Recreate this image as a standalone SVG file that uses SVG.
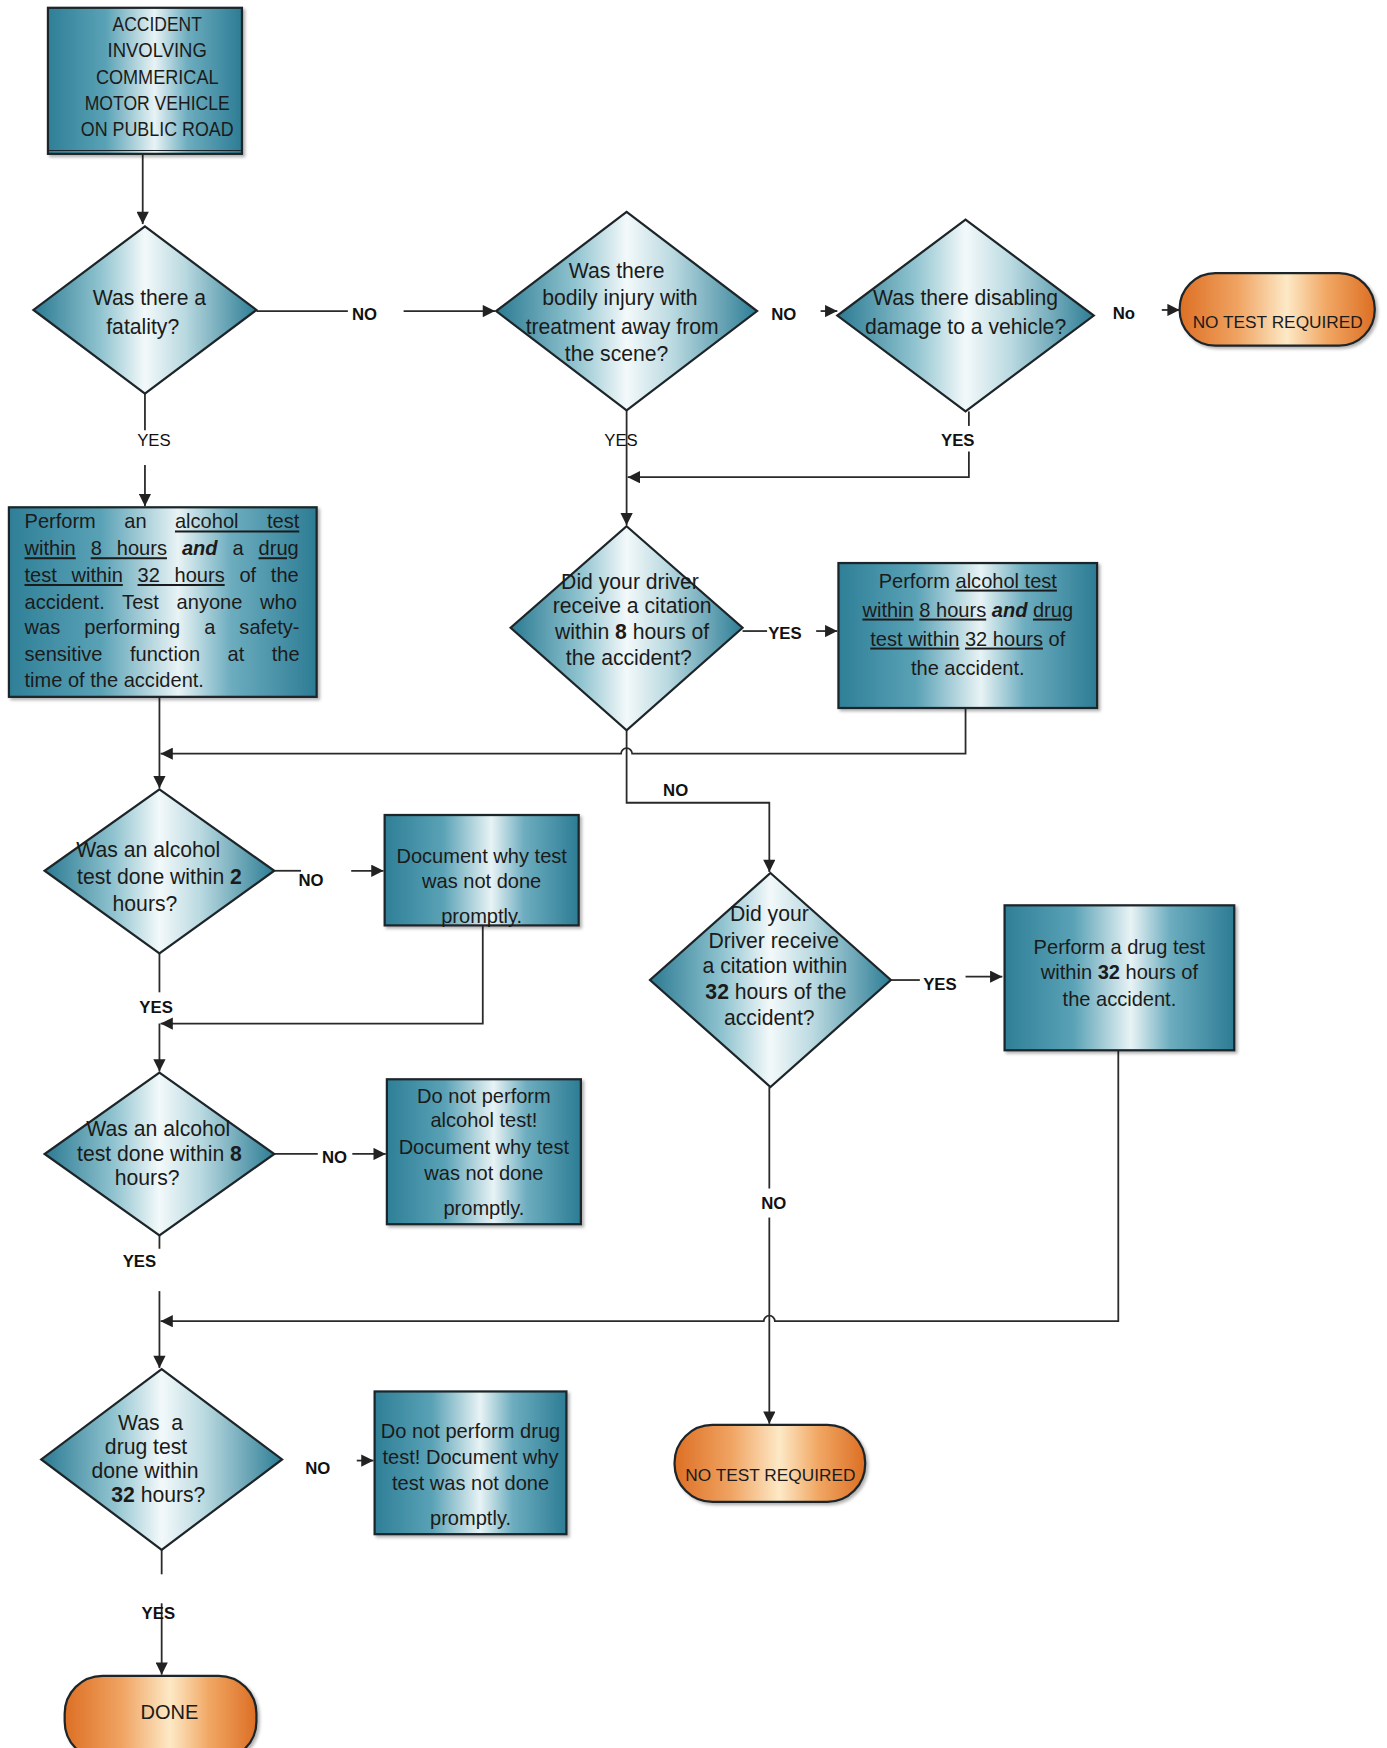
<svg xmlns="http://www.w3.org/2000/svg" width="1387" height="1748" viewBox="0 0 1387 1748">
<defs>
<linearGradient id="gBox" x1="0" y1="0" x2="1" y2="0">
<stop offset="0" stop-color="#2e7f97"/><stop offset="0.3" stop-color="#5aa2b6"/><stop offset="0.55" stop-color="#e8f3f5"/><stop offset="0.72" stop-color="#6dadbf"/><stop offset="1" stop-color="#2c7c94"/>
</linearGradient>
<linearGradient id="gDia" x1="0" y1="0" x2="1" y2="0">
<stop offset="0" stop-color="#2b7a92"/><stop offset="0.3" stop-color="#8fc3cf"/><stop offset="0.5" stop-color="#f3f9fa"/><stop offset="0.68" stop-color="#b9d9e0"/><stop offset="1" stop-color="#2d7d95"/>
</linearGradient>
<linearGradient id="gOr" x1="0" y1="0" x2="1" y2="0">
<stop offset="0" stop-color="#dd6f24"/><stop offset="0.3" stop-color="#f0a463"/><stop offset="0.55" stop-color="#fde9c6"/><stop offset="0.75" stop-color="#f1a865"/><stop offset="1" stop-color="#dc6e23"/>
</linearGradient>
<filter id="sh" x="-10%" y="-10%" width="130%" height="130%">
<feDropShadow dx="2" dy="2" stdDeviation="1.5" flood-color="#000" flood-opacity="0.3"/>
</filter>
<marker id="ah" viewBox="0 0 10 10" refX="10" refY="5" markerWidth="13" markerHeight="11" markerUnits="userSpaceOnUse" orient="auto">
<path d="M0,0 L10,5 L0,10 z" fill="#222"/>
</marker>
<style>
.box{fill:url(#gBox);stroke:#1d2529;stroke-width:2;filter:url(#sh)}
.dia{fill:url(#gDia);stroke:#1d2529;stroke-width:2}
.term{fill:url(#gOr);stroke:#1d2529;stroke-width:2;filter:url(#sh)}
.t{font-family:"Liberation Sans",Arial,sans-serif;font-size:18px;fill:#1b1b1b;text-anchor:middle}
.tt{font-family:"Liberation Sans",Arial,sans-serif;font-size:15.5px;fill:#1b1b1b;text-anchor:middle}
.td{font-family:"Liberation Sans",Arial,sans-serif;font-size:19px;fill:#1b1b1b;text-anchor:middle}
.tj{font-family:"Liberation Sans",Arial,sans-serif;font-size:18px;fill:#1b1b1b}
.lb{font-family:"Liberation Sans",Arial,sans-serif;font-size:15px;font-weight:bold;fill:#111;text-anchor:middle}
.lr{font-family:"Liberation Sans",Arial,sans-serif;font-size:15px;fill:#111;text-anchor:middle}
.c{fill:none;stroke:#2a2a2a;stroke-width:1.6}
.ca{fill:none;stroke:#2a2a2a;stroke-width:1.6;marker-end:url(#ah)}
.u{text-decoration:underline}
.b{font-weight:bold}
.bi{font-weight:bold;font-style:italic}
</style>
</defs>
<rect width="1387" height="1748" fill="#ffffff"/>
<g transform="scale(1.11495)">

<g id="connectors">
<path class="ca" d="M128,138 V201"/>
<path class="c" d="M230,279 H312"/>
<path class="ca" d="M362,279 H444"/>
<path class="ca" d="M736,279 H751"/>
<path class="ca" d="M1042,278 H1058"/>
<path class="c" d="M130,353 V386"/>
<path class="ca" d="M130,417 V454"/>
<path class="ca" d="M562,368 V471"/>
<path class="c" d="M869,369 V382"/>
<path class="ca" d="M869,405 V428 H563"/>
<path class="c" d="M666,566 H688"/>
<path class="ca" d="M732,566 H751"/>
<path class="ca" d="M866,635 V676 H567 A5,5 0 0 0 557,676 H144"/>
<path class="ca" d="M143,625 V707"/>
<path class="ca" d="M562,655 V720 H690 V782"/>
<path class="c" d="M246,781 H270"/>
<path class="ca" d="M315,781 H344"/>
<path class="ca" d="M433,830 V918 H144"/>
<path class="c" d="M143,855 V890"/>
<path class="ca" d="M143,918 V961"/>
<path class="c" d="M246,1035 H285"/>
<path class="ca" d="M316,1035 H346"/>
<path class="c" d="M143,1108 V1120"/>
<path class="ca" d="M143,1158 V1227"/>
<path class="ca" d="M1003,942 V1185 H695 A5,5 0 0 0 685,1185 H144"/>
<path class="c" d="M799,879 H825"/>
<path class="ca" d="M866,876 H899"/>
<path class="c" d="M690,975 V1066"/>
<path class="ca" d="M690,1092 V1277"/>
<path class="ca" d="M320,1310 H335"/>
<path class="c" d="M145,1390 V1412"/>
<path class="ca" d="M145,1438 V1502"/>
</g>

<g id="labels">
<text class="lb" x="327" y="287">NO</text>
<text class="lb" x="703" y="287">NO</text>
<text class="lb" x="1008" y="286">No</text>
<text class="lr" x="138" y="400">YES</text>
<text class="lr" x="557" y="400">YES</text>
<text class="lb" x="859" y="400">YES</text>
<text class="lb" x="704" y="573">YES</text>
<text class="lb" x="606" y="714">NO</text>
<text class="lb" x="279" y="795">NO</text>
<text class="lb" x="140" y="909">YES</text>
<text class="lb" x="300" y="1043">NO</text>
<text class="lb" x="125" y="1136">YES</text>
<text class="lb" x="843" y="888">YES</text>
<text class="lb" x="694" y="1084">NO</text>
<text class="lb" x="285" y="1322">NO</text>
<text class="lb" x="142" y="1452">YES</text>
</g>

<g id="start">
<rect class="box" x="43" y="7" width="174" height="131"/>
<line x1="44" y1="135" x2="216" y2="135" stroke="#1d2529" stroke-width="1"/>
<text class="t" x="141" y="28" textLength="80" lengthAdjust="spacingAndGlyphs">ACCIDENT</text>
<text class="t" x="141" y="51.5" textLength="89" lengthAdjust="spacingAndGlyphs">INVOLVING</text>
<text class="t" x="141" y="75" textLength="110" lengthAdjust="spacingAndGlyphs">COMMERICAL</text>
<text class="t" x="141" y="98.5" textLength="130" lengthAdjust="spacingAndGlyphs">MOTOR VEHICLE</text>
<text class="t" x="141" y="122" textLength="137" lengthAdjust="spacingAndGlyphs">ON PUBLIC ROAD</text>
</g>

<g id="fatality">
<polygon class="dia" points="130,203 230,278 130,353 30,278"/>
<text class="td" x="134" y="274">Was there a</text>
<text class="td" x="128" y="300">fatality?</text>
</g>

<g id="injury">
<polygon class="dia" points="562,190 679,279 562,368 445,279"/>
<text class="td" x="553" y="249">Was there</text>
<text class="td" x="556" y="274">bodily injury with</text>
<text class="td" x="558" y="300">treatment away from</text>
<text class="td" x="553" y="324">the scene?</text>
</g>

<g id="disabling">
<polygon class="dia" points="866,197 981,283 866,369 751,283"/>
<text class="td" x="866" y="274">Was there disabling</text>
<text class="td" x="866" y="300">damage to a vehicle?</text>
</g>

<g id="no-test-1">
<rect class="term" x="1058" y="245" width="175" height="65" rx="32" ry="32"/>
<text class="tt" x="1146" y="294">NO TEST REQUIRED</text>
</g>

<g id="alcohol-drug-fatal">
<rect class="box" x="8" y="455" width="276" height="170"/>
<text class="tj" x="22" y="474" style="word-spacing:20.5px">Perform an <tspan class="u">alcohol test</tspan></text>
<text class="tj" x="22" y="498" style="word-spacing:8.4px"><tspan class="u">within</tspan> <tspan class="u">8 hours</tspan> <tspan class="bi">and</tspan> a <tspan class="u">drug</tspan></text>
<text class="tj" x="22" y="522" style="word-spacing:8.2px"><tspan class="u">test within</tspan> <tspan class="u">32 hours</tspan> of the</text>
<text class="tj" x="22" y="546" style="word-spacing:10.9px">accident. Test anyone who</text>
<text class="tj" x="22" y="569" style="word-spacing:16.6px">was performing a safety-</text>
<text class="tj" x="22" y="593" style="word-spacing:19.6px">sensitive function at the</text>
<text class="tj" x="22" y="616">time of the accident.</text>
</g>

<g id="citation-8">
<polygon class="dia" points="562,472 666,563 562,655 458,563"/>
<text class="td" x="565" y="528">Did your driver</text>
<text class="td" x="567" y="550">receive a citation</text>
<text class="td" x="567" y="573">within <tspan class="b">8</tspan> hours of</text>
<text class="td" x="564" y="596">the accident?</text>
</g>

<g id="alcohol-drug-citation">
<rect class="box" x="752" y="505" width="232" height="130"/>
<text class="t" x="868" y="527">Perform <tspan class="u">alcohol test</tspan></text>
<text class="t" x="868" y="553"><tspan class="u">within</tspan> <tspan class="u">8 hours</tspan> <tspan class="bi">and</tspan> <tspan class="u">drug</tspan></text>
<text class="t" x="868" y="579"><tspan class="u">test within</tspan> <tspan class="u">32 hours</tspan> of</text>
<text class="t" x="868" y="605">the accident.</text>
</g>

<g id="alcohol-2h">
<polygon class="dia" points="143,708 246,781 143,855 40,781"/>
<text class="td" x="133" y="769">Was an alcohol</text>
<text class="td" x="143" y="793">test done within <tspan class="b">2</tspan></text>
<text class="td" x="130" y="817">hours?</text>
</g>

<g id="document-2h">
<rect class="box" x="345" y="731" width="174" height="99"/>
<text class="t" x="432" y="774">Document why test</text>
<text class="t" x="432" y="796">was not done</text>
<text class="t" x="432" y="828">promptly.</text>
</g>

<g id="alcohol-8h">
<polygon class="dia" points="143,962 246,1035 143,1108 40,1035"/>
<text class="td" x="142" y="1019">Was an alcohol</text>
<text class="td" x="143" y="1041">test done within <tspan class="b">8</tspan></text>
<text class="td" x="132" y="1063">hours?</text>
</g>

<g id="no-alcohol-test">
<rect class="box" x="347" y="968" width="174" height="130"/>
<text class="t" x="434" y="989">Do not perform</text>
<text class="t" x="434" y="1011">alcohol test!</text>
<text class="t" x="434" y="1035">Document why test</text>
<text class="t" x="434" y="1058">was not done</text>
<text class="t" x="434" y="1090">promptly.</text>
</g>

<g id="citation-32">
<polygon class="dia" points="691,783 799,879 691,975 583,879"/>
<text class="td" x="690" y="826">Did your</text>
<text class="td" x="694" y="850">Driver receive</text>
<text class="td" x="695" y="873">a citation within</text>
<text class="td" x="696" y="896"><tspan class="b">32</tspan> hours of the</text>
<text class="td" x="690" y="919">accident?</text>
</g>

<g id="drug-32">
<rect class="box" x="901" y="812" width="206" height="130"/>
<text class="t" x="1004" y="856">Perform a drug test</text>
<text class="t" x="1004" y="878">within <tspan class="b">32</tspan> hours of</text>
<text class="t" x="1004" y="902">the accident.</text>
</g>

<g id="no-test-2">
<rect class="term" x="605" y="1278" width="171" height="69" rx="34" ry="34"/>
<text class="tt" x="691" y="1328">NO TEST REQUIRED</text>
</g>

<g id="drug-32h">
<polygon class="dia" points="145,1228 253,1309 145,1390 37,1309"/>
<text class="td" x="135" y="1283" xml:space="preserve">Was  a</text>
<text class="td" x="131" y="1304">drug test</text>
<text class="td" x="130" y="1326">done within</text>
<text class="td" x="142" y="1347"><tspan class="b">32</tspan> hours?</text>
</g>

<g id="no-drug-test">
<rect class="box" x="336" y="1248" width="172" height="128"/>
<text class="t" x="422" y="1290">Do not perform drug</text>
<text class="t" x="422" y="1313">test! Document why</text>
<text class="t" x="422" y="1336">test was not done</text>
<text class="t" x="422" y="1368">promptly.</text>
</g>

<g id="done">
<rect class="term" x="58" y="1503" width="172" height="75" rx="34" ry="34"/>
<text class="t" x="152" y="1542">DONE</text>
</g>

</g>
</svg>
